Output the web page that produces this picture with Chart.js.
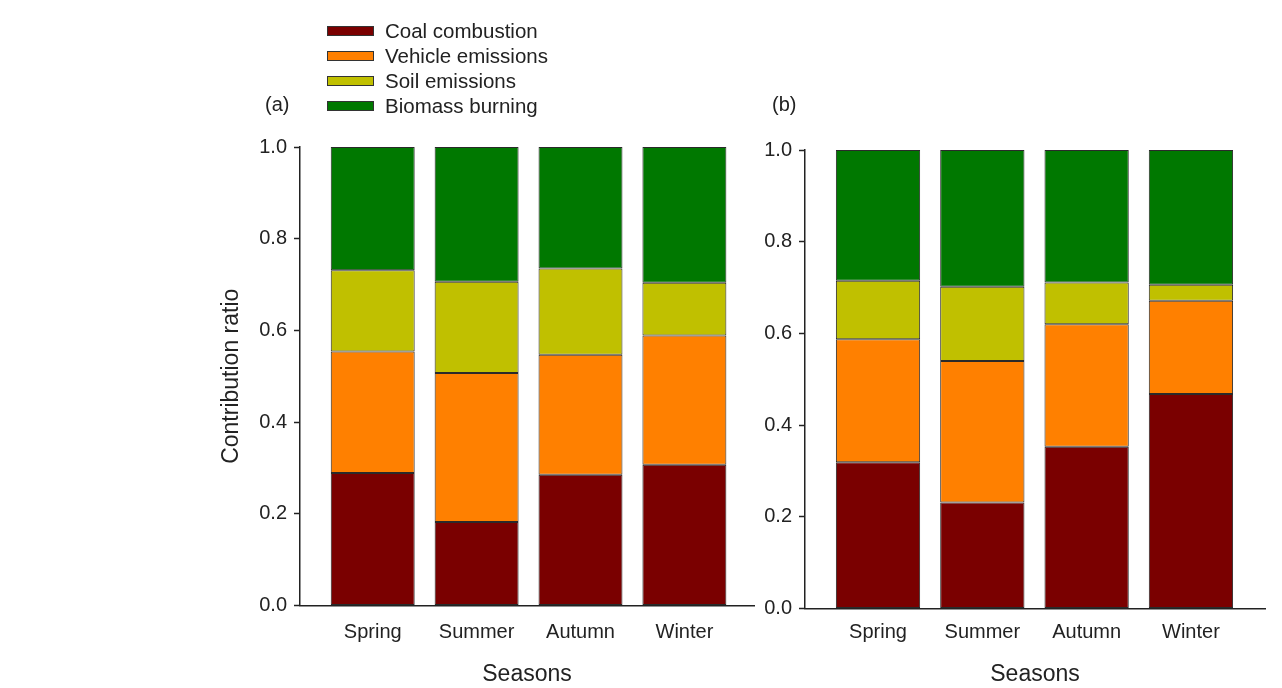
<!DOCTYPE html>
<html>
<head>
<meta charset="utf-8">
<script src="https://cdn.jsdelivr.net/npm/chart.js@4"></script>
<style>
  body { margin: 0; background: #fff; font-family: "Liberation Sans", Arial, sans-serif; color: #222; }
  #wrap { position: relative; width: 1282px; height: 688px; overflow: hidden; }
  canvas { position: absolute; top: 0; }
  #chartA { left: 0; }
  #chartB { left: 740px; }
  .panel { position: absolute; top: 92px; font-size: 20px; line-height: 24px; }
  #legend { position: absolute; left: 327px; top: 18px; font-size: 20.5px; }
  #legend .row { display: flex; align-items: center; height: 25px; }
  #legend .sw { width: 45px; height: 8px; border: 1px solid #333; margin-right: 11px; }
</style>
</head>
<body>
<div id="wrap">
  <canvas id="chartA" width="770" height="688"></canvas>
  <canvas id="chartB" width="542" height="688"></canvas>
  <div class="panel" style="left:265px">(a)</div>
  <div class="panel" style="left:772px">(b)</div>
  <div id="legend"></div>
</div>
<script>
const seasons = ["Spring", "Summer", "Autumn", "Winter"];
const sources = ["Coal combustion", "Vehicle emissions", "Soil emissions", "Biomass burning"];
const colors = ["#7a0000", "#ff8000", "#c0c000", "#007800"];

// panel (a)
const coalA = [0.289, 0.182, 0.285, 0.307];
const vehicleA = [0.265, 0.325, 0.262, 0.282];
const soilA = [0.177, 0.199, 0.188, 0.115];
const biomassA = [0.269, 0.294, 0.265, 0.296];

// panel (b)
const coalB = [0.319, 0.231, 0.353, 0.468];
const vehicleB = [0.268, 0.309, 0.267, 0.203];
const soilB = [0.128, 0.162, 0.091, 0.035];
const biomassB = [0.285, 0.298, 0.289, 0.294];

Chart.defaults.font.family = '"Liberation Sans", Arial, sans-serif';
Chart.defaults.color = "#222";
Chart.defaults.animation = false;

function makeSets(series) {
  return series.map((vals, k) => ({
    label: sources[k],
    data: vals.map((v, i) => ({ x: i, y: v })),
    backgroundColor: colors[k],
    borderColor: "#2a2a2a",
    borderWidth: 1,
    borderSkipped: false,
    categoryPercentage: 1,
    barPercentage: 0.808
  }));
}

function makeChart(id, series, opts) {
  return new Chart(document.getElementById(id), {
    type: "bar",
    data: { datasets: makeSets(series) },
    options: {
      responsive: false,
      layout: { padding: opts.padding },
      plugins: { legend: { display: false }, tooltip: { enabled: false } },
      scales: {
        x: {
          type: "linear",
          stacked: true,
          offset: false,
          min: -0.7,
          max: opts.xMax,
          afterFit: (s) => { s.height = opts.xHeight; },
          grid: { display: false, drawTicks: false },
          border: { display: true, color: "#222", width: 1.5 },
          ticks: {
            stepSize: 1,
            includeBounds: false,
            autoSkip: false,
            maxRotation: 0,
            padding: opts.xPad,
            font: { size: 20 },
            callback: (v) => (Number.isInteger(v) && seasons[v]) ? seasons[v] : ""
          },
          title: { display: true, text: "Seasons", font: { size: 23 }, padding: { top: 0, bottom: 0 } }
        },
        y: {
          stacked: true,
          min: 0,
          max: 1,
          afterFit: (s) => { s.width = opts.yWidth; },
          grid: { drawOnChartArea: false, drawTicks: true, tickLength: 6, tickColor: "#222", tickWidth: 1.5 },
          border: { display: true, color: "#222", width: 1.5 },
          ticks: { stepSize: 0.2, padding: 7, font: { size: 20 }, callback: (v) => v.toFixed(1) },
          title: { display: opts.yTitle, text: "Contribution ratio", font: { size: 23 }, padding: { top: 18, bottom: 0 } }
        }
      }
    }
  });
}

makeChart("chartA", [coalA, vehicleA, soilA, biomassA], {
  padding: { left: 200, top: 147, right: 16, bottom: 0 },
  xMax: 3.67, xHeight: 82.5, xPad: 14.5, yWidth: 100, yTitle: true
});

makeChart("chartB", [coalB, vehicleB, soilB, biomassB], {
  padding: { left: 0, top: 150, right: 17, bottom: 0 },
  xMax: 3.71, xHeight: 79.5, xPad: 11.5, yWidth: 65, yTitle: false
});

// legend
const legend = document.getElementById("legend");
sources.forEach((name, k) => {
  const row = document.createElement("div");
  row.className = "row";
  const sw = document.createElement("span");
  sw.className = "sw";
  sw.style.background = colors[k];
  const txt = document.createElement("span");
  txt.textContent = name;
  row.appendChild(sw);
  row.appendChild(txt);
  legend.appendChild(row);
});
</script>
</body>
</html>
